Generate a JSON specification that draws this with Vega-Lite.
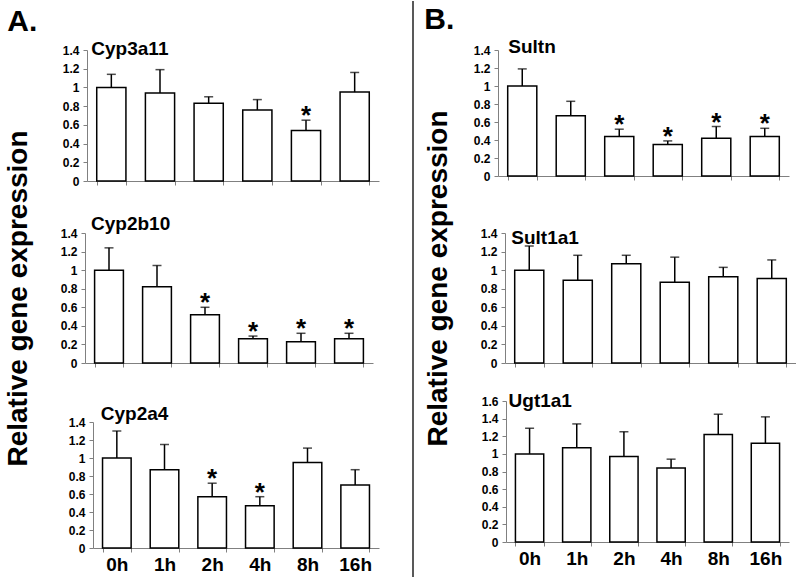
{
  "$schema": "https://vega.github.io/schema/vega-lite/v6.json",
  "background": "white",
  "padding": {"left": 4, "top": 0, "right": 0, "bottom": 0},
  "config": {
    "font": "Liberation Sans",
    "view": {"stroke": null},
    "axis": {"domainColor": "#808080", "tickColor": "#808080", "tickSize": 4, "labelColor": "black", "labelFontWeight": "bold", "grid": false, "titleColor": "black", "titleFontWeight": "bold"},
    "axisX": {"tickBand": "extent", "labelAngle": 0, "labelFontSize": 19, "labelPadding": 3},
    "axisY": {"labelFontSize": 12, "labelPadding": 4, "titleFontSize": 28},
    "title": {"fontWeight": "bold", "color": "black", "anchor": "start"}
  },
  "data": {"values": [
    {"gene": "Cyp3a11", "time": "0h", "value": 1.0, "upper": 1.14, "sig": false},
    {"gene": "Cyp3a11", "time": "1h", "value": 0.94, "upper": 1.19, "sig": false},
    {"gene": "Cyp3a11", "time": "2h", "value": 0.83, "upper": 0.90, "sig": false},
    {"gene": "Cyp3a11", "time": "4h", "value": 0.76, "upper": 0.87, "sig": false},
    {"gene": "Cyp3a11", "time": "8h", "value": 0.54, "upper": 0.65, "sig": true},
    {"gene": "Cyp3a11", "time": "16h", "value": 0.95, "upper": 1.16, "sig": false},
    {"gene": "Cyp2b10", "time": "0h", "value": 1.0, "upper": 1.24, "sig": false},
    {"gene": "Cyp2b10", "time": "1h", "value": 0.82, "upper": 1.05, "sig": false},
    {"gene": "Cyp2b10", "time": "2h", "value": 0.52, "upper": 0.60, "sig": true},
    {"gene": "Cyp2b10", "time": "4h", "value": 0.26, "upper": 0.29, "sig": true},
    {"gene": "Cyp2b10", "time": "8h", "value": 0.23, "upper": 0.32, "sig": true},
    {"gene": "Cyp2b10", "time": "16h", "value": 0.26, "upper": 0.32, "sig": true},
    {"gene": "Cyp2a4", "time": "0h", "value": 1.0, "upper": 1.30, "sig": false},
    {"gene": "Cyp2a4", "time": "1h", "value": 0.87, "upper": 1.15, "sig": false},
    {"gene": "Cyp2a4", "time": "2h", "value": 0.57, "upper": 0.72, "sig": true},
    {"gene": "Cyp2a4", "time": "4h", "value": 0.47, "upper": 0.57, "sig": true},
    {"gene": "Cyp2a4", "time": "8h", "value": 0.95, "upper": 1.11, "sig": false},
    {"gene": "Cyp2a4", "time": "16h", "value": 0.70, "upper": 0.87, "sig": false},
    {"gene": "Sultn", "time": "0h", "value": 1.0, "upper": 1.19, "sig": false},
    {"gene": "Sultn", "time": "1h", "value": 0.67, "upper": 0.83, "sig": false},
    {"gene": "Sultn", "time": "2h", "value": 0.44, "upper": 0.52, "sig": true},
    {"gene": "Sultn", "time": "4h", "value": 0.35, "upper": 0.39, "sig": true},
    {"gene": "Sultn", "time": "8h", "value": 0.42, "upper": 0.55, "sig": true},
    {"gene": "Sultn", "time": "16h", "value": 0.44, "upper": 0.53, "sig": true},
    {"gene": "Sult1a1", "time": "0h", "value": 1.0, "upper": 1.26, "sig": false},
    {"gene": "Sult1a1", "time": "1h", "value": 0.89, "upper": 1.16, "sig": false},
    {"gene": "Sult1a1", "time": "2h", "value": 1.07, "upper": 1.16, "sig": false},
    {"gene": "Sult1a1", "time": "4h", "value": 0.87, "upper": 1.14, "sig": false},
    {"gene": "Sult1a1", "time": "8h", "value": 0.93, "upper": 1.03, "sig": false},
    {"gene": "Sult1a1", "time": "16h", "value": 0.91, "upper": 1.11, "sig": false},
    {"gene": "Ugt1a1", "time": "0h", "value": 1.0, "upper": 1.29, "sig": false},
    {"gene": "Ugt1a1", "time": "1h", "value": 1.07, "upper": 1.34, "sig": false},
    {"gene": "Ugt1a1", "time": "2h", "value": 0.97, "upper": 1.25, "sig": false},
    {"gene": "Ugt1a1", "time": "4h", "value": 0.84, "upper": 0.94, "sig": false},
    {"gene": "Ugt1a1", "time": "8h", "value": 1.22, "upper": 1.45, "sig": false},
    {"gene": "Ugt1a1", "time": "16h", "value": 1.12, "upper": 1.42, "sig": false}
  ]},
  "spacing": 10,
  "hconcat": [
    {
      "title": {"text": "A.", "fontSize": 30, "offset": 3, "dx": 3, "frame": "bounds"},
      "spacing": 52,
      "bounds": "flush",
      "vconcat": [
        {
          "width": 294, "height": 131,
          "transform": [{"filter": "datum.gene === 'Cyp3a11'"}],
          "encoding": {"x": {"field": "time", "type": "nominal", "sort": ["0h","1h","2h","4h","8h","16h"], "scale": {"range": [2, 294], "paddingInner": 0.4, "paddingOuter": 0.2}, "axis": {"title": null, "labels": false}}},
          "layer": [
            {"mark": {"type": "bar", "fill": "white", "stroke": "black", "strokeWidth": 1.5},
             "encoding": {"y": {"field": "value", "type": "quantitative", "title": null, "scale": {"domain": [0, 1.4], "nice": false}, "axis": {"values": [0,0.2,0.4,0.6,0.8,1,1.2,1.4], "format": "~g", "offset": -2}}}},
            {"mark": {"type": "rule", "color": "black", "strokeWidth": 1.5},
             "encoding": {"y": {"field": "value", "type": "quantitative", "title": null, "scale": {"domain": [0, 1.4], "nice": false}, "axis": {"values": [0,0.2,0.4,0.6,0.8,1,1.2,1.4], "format": "~g", "offset": -2}}, "y2": {"field": "upper"}}},
            {"mark": {"type": "tick", "color": "black", "thickness": 1.5, "size": 9},
             "encoding": {"y": {"field": "upper", "type": "quantitative", "title": null, "scale": {"domain": [0, 1.4], "nice": false}, "axis": {"values": [0,0.2,0.4,0.6,0.8,1,1.2,1.4], "format": "~g", "offset": -2}}}},
            {"transform": [{"filter": "datum.sig"}],
             "mark": {"type": "text", "text": "*", "fontSize": 26, "fontWeight": "bold", "baseline": "alphabetic", "dy": 4},
             "encoding": {"y": {"field": "upper", "type": "quantitative", "title": null, "scale": {"domain": [0, 1.4], "nice": false}, "axis": {"values": [0,0.2,0.4,0.6,0.8,1,1.2,1.4], "format": "~g", "offset": -2}}}},
            {"transform": [{"filter": "datum.time === '0h'"}],
             "mark": {"type": "text", "align": "left", "baseline": "alphabetic", "fontSize": 19, "fontWeight": "bold", "dx": -20, "dy": 5},
             "encoding": {"text": {"field": "gene"}, "y": {"datum": 1.4, "type": "quantitative", "title": null, "scale": {"domain": [0, 1.4], "nice": false}, "axis": {"values": [0,0.2,0.4,0.6,0.8,1,1.2,1.4], "format": "~g", "offset": -2}}}}
          ]
        },
        {
          "width": 294, "height": 130,
          "transform": [{"filter": "datum.gene === 'Cyp2b10'"}],
          "encoding": {"x": {"field": "time", "type": "nominal", "sort": ["0h","1h","2h","4h","8h","16h"], "scale": {"range": [0, 288], "paddingInner": 0.4, "paddingOuter": 0.2}, "axis": {"title": null, "labels": false}}},
          "layer": [
            {"mark": {"type": "bar", "fill": "white", "stroke": "black", "strokeWidth": 1.5},
             "encoding": {"y": {"field": "value", "type": "quantitative", "title": "Relative gene expression", "scale": {"domain": [0, 1.4], "nice": false}, "axis": {"values": [0,0.2,0.4,0.6,0.8,1,1.2,1.4], "format": "~g", "titlePadding": 28}}}},
            {"mark": {"type": "rule", "color": "black", "strokeWidth": 1.5},
             "encoding": {"y": {"field": "value", "type": "quantitative", "title": "Relative gene expression", "scale": {"domain": [0, 1.4], "nice": false}, "axis": {"values": [0,0.2,0.4,0.6,0.8,1,1.2,1.4], "format": "~g", "titlePadding": 28}}, "y2": {"field": "upper"}}},
            {"mark": {"type": "tick", "color": "black", "thickness": 1.5, "size": 9},
             "encoding": {"y": {"field": "upper", "type": "quantitative", "title": "Relative gene expression", "scale": {"domain": [0, 1.4], "nice": false}, "axis": {"values": [0,0.2,0.4,0.6,0.8,1,1.2,1.4], "format": "~g", "titlePadding": 28}}}},
            {"transform": [{"filter": "datum.sig"}],
             "mark": {"type": "text", "text": "*", "fontSize": 26, "fontWeight": "bold", "baseline": "alphabetic", "dy": 4},
             "encoding": {"y": {"field": "upper", "type": "quantitative", "title": "Relative gene expression", "scale": {"domain": [0, 1.4], "nice": false}, "axis": {"values": [0,0.2,0.4,0.6,0.8,1,1.2,1.4], "format": "~g", "titlePadding": 28}}}},
            {"transform": [{"filter": "datum.time === '0h'"}],
             "mark": {"type": "text", "align": "left", "baseline": "alphabetic", "fontSize": 19, "fontWeight": "bold", "dx": -18, "dy": -3},
             "encoding": {"text": {"field": "gene"}, "y": {"datum": 1.4, "type": "quantitative", "title": "Relative gene expression", "scale": {"domain": [0, 1.4], "nice": false}, "axis": {"values": [0,0.2,0.4,0.6,0.8,1,1.2,1.4], "format": "~g", "titlePadding": 28}}}}
          ]
        },
        {
          "width": 294, "height": 133,
          "transform": [{"filter": "datum.gene === 'Cyp2a4'"}],
          "encoding": {"x": {"field": "time", "type": "nominal", "sort": ["0h","1h","2h","4h","8h","16h"], "scale": {"range": [8, 294], "paddingInner": 0.4, "paddingOuter": 0.2}, "axis": {"title": null}}},
          "layer": [
            {"mark": {"type": "bar", "fill": "white", "stroke": "black", "strokeWidth": 1.5},
             "encoding": {"y": {"field": "value", "type": "quantitative", "title": null, "scale": {"domain": [0, 1.4], "nice": false, "range": [133, 7]}, "axis": {"values": [0,0.2,0.4,0.6,0.8,1,1.2,1.4], "format": "~g", "offset": -8}}}},
            {"mark": {"type": "rule", "color": "black", "strokeWidth": 1.5},
             "encoding": {"y": {"field": "value", "type": "quantitative", "title": null, "scale": {"domain": [0, 1.4], "nice": false, "range": [133, 7]}, "axis": {"values": [0,0.2,0.4,0.6,0.8,1,1.2,1.4], "format": "~g", "offset": -8}}, "y2": {"field": "upper"}}},
            {"mark": {"type": "tick", "color": "black", "thickness": 1.5, "size": 9},
             "encoding": {"y": {"field": "upper", "type": "quantitative", "title": null, "scale": {"domain": [0, 1.4], "nice": false, "range": [133, 7]}, "axis": {"values": [0,0.2,0.4,0.6,0.8,1,1.2,1.4], "format": "~g", "offset": -8}}}},
            {"transform": [{"filter": "datum.sig"}],
             "mark": {"type": "text", "text": "*", "fontSize": 26, "fontWeight": "bold", "baseline": "alphabetic", "dy": 4},
             "encoding": {"y": {"field": "upper", "type": "quantitative", "title": null, "scale": {"domain": [0, 1.4], "nice": false, "range": [133, 7]}, "axis": {"values": [0,0.2,0.4,0.6,0.8,1,1.2,1.4], "format": "~g", "offset": -8}}}},
            {"transform": [{"filter": "datum.time === '0h'"}],
             "mark": {"type": "text", "align": "left", "baseline": "alphabetic", "fontSize": 19, "fontWeight": "bold", "dx": -16, "dy": -2},
             "encoding": {"text": {"field": "gene"}, "y": {"datum": 1.4, "type": "quantitative", "title": null, "scale": {"domain": [0, 1.4], "nice": false, "range": [133, 7]}, "axis": {"values": [0,0.2,0.4,0.6,0.8,1,1.2,1.4], "format": "~g", "offset": -8}}}}
          ]
        }
      ]
    },
    {
      "data": {"values": [{}]},
      "width": 24, "height": 528,
      "mark": {"type": "rule", "color": "#222222", "strokeWidth": 1.5},
      "encoding": {
        "x": {"datum": 1, "type": "quantitative", "scale": {"domain": [0, 1]}, "axis": null},
        "y": {"datum": 0, "type": "quantitative", "scale": {"domain": [0, 1], "range": [528, -49]}, "axis": null},
        "y2": {"datum": 1}
      }
    },
    {
      "title": {"text": "B.", "fontSize": 30, "offset": 3, "frame": "bounds"},
      "spacing": 38,
      "bounds": "flush",
      "vconcat": [
        {
          "width": 298, "height": 126,
          "transform": [{"filter": "datum.gene === 'Sultn'"}],
          "encoding": {"x": {"field": "time", "type": "nominal", "sort": ["0h","1h","2h","4h","8h","16h"], "scale": {"range": [0, 291], "paddingInner": 0.4, "paddingOuter": 0.2}, "axis": {"title": null, "labels": false}}},
          "layer": [
            {"mark": {"type": "bar", "fill": "white", "stroke": "black", "strokeWidth": 1.5},
             "encoding": {"y": {"field": "value", "type": "quantitative", "title": null, "scale": {"domain": [0, 1.4], "nice": false}, "axis": {"values": [0,0.2,0.4,0.6,0.8,1,1.2,1.4], "format": "~g"}}}},
            {"mark": {"type": "rule", "color": "black", "strokeWidth": 1.5},
             "encoding": {"y": {"field": "value", "type": "quantitative", "title": null, "scale": {"domain": [0, 1.4], "nice": false}, "axis": {"values": [0,0.2,0.4,0.6,0.8,1,1.2,1.4], "format": "~g"}}, "y2": {"field": "upper"}}},
            {"mark": {"type": "tick", "color": "black", "thickness": 1.5, "size": 9},
             "encoding": {"y": {"field": "upper", "type": "quantitative", "title": null, "scale": {"domain": [0, 1.4], "nice": false}, "axis": {"values": [0,0.2,0.4,0.6,0.8,1,1.2,1.4], "format": "~g"}}}},
            {"transform": [{"filter": "datum.sig"}],
             "mark": {"type": "text", "text": "*", "fontSize": 26, "fontWeight": "bold", "baseline": "alphabetic", "dy": 4},
             "encoding": {"y": {"field": "upper", "type": "quantitative", "title": null, "scale": {"domain": [0, 1.4], "nice": false}, "axis": {"values": [0,0.2,0.4,0.6,0.8,1,1.2,1.4], "format": "~g"}}}},
            {"transform": [{"filter": "datum.time === '0h'"}],
             "mark": {"type": "text", "align": "left", "baseline": "alphabetic", "fontSize": 19, "fontWeight": "bold", "dx": -14, "dy": 3},
             "encoding": {"text": {"field": "gene"}, "y": {"datum": 1.4, "type": "quantitative", "title": null, "scale": {"domain": [0, 1.4], "nice": false}, "axis": {"values": [0,0.2,0.4,0.6,0.8,1,1.2,1.4], "format": "~g"}}}}
          ]
        },
        {
          "width": 298, "height": 149,
          "transform": [{"filter": "datum.gene === 'Sult1a1'"}],
          "encoding": {"x": {"field": "time", "type": "nominal", "sort": ["0h","1h","2h","4h","8h","16h"], "scale": {"range": [7, 298], "paddingInner": 0.4, "paddingOuter": 0.2}, "axis": {"title": null, "labels": false}}},
          "layer": [
            {"mark": {"type": "bar", "fill": "white", "stroke": "black", "strokeWidth": 1.5},
             "encoding": {"y": {"field": "value", "type": "quantitative", "title": "Relative gene expression", "scale": {"domain": [0, 1.4], "nice": false, "range": [149, 19]}, "axis": {"values": [0,0.2,0.4,0.6,0.8,1,1.2,1.4], "format": "~g", "offset": -7, "titlePadding": 28, "titleY": 64}}}},
            {"mark": {"type": "rule", "color": "black", "strokeWidth": 1.5},
             "encoding": {"y": {"field": "value", "type": "quantitative", "title": "Relative gene expression", "scale": {"domain": [0, 1.4], "nice": false, "range": [149, 19]}, "axis": {"values": [0,0.2,0.4,0.6,0.8,1,1.2,1.4], "format": "~g", "offset": -7, "titlePadding": 28, "titleY": 64}}, "y2": {"field": "upper"}}},
            {"mark": {"type": "tick", "color": "black", "thickness": 1.5, "size": 9},
             "encoding": {"y": {"field": "upper", "type": "quantitative", "title": "Relative gene expression", "scale": {"domain": [0, 1.4], "nice": false, "range": [149, 19]}, "axis": {"values": [0,0.2,0.4,0.6,0.8,1,1.2,1.4], "format": "~g", "offset": -7, "titlePadding": 28, "titleY": 64}}}},
            {"transform": [{"filter": "datum.sig"}],
             "mark": {"type": "text", "text": "*", "fontSize": 26, "fontWeight": "bold", "baseline": "alphabetic", "dy": 4},
             "encoding": {"y": {"field": "upper", "type": "quantitative", "title": "Relative gene expression", "scale": {"domain": [0, 1.4], "nice": false, "range": [149, 19]}, "axis": {"values": [0,0.2,0.4,0.6,0.8,1,1.2,1.4], "format": "~g", "offset": -7, "titlePadding": 28, "titleY": 64}}}},
            {"transform": [{"filter": "datum.time === '0h'"}],
             "mark": {"type": "text", "align": "left", "baseline": "alphabetic", "fontSize": 19, "fontWeight": "bold", "dx": -18, "dy": 11},
             "encoding": {"text": {"field": "gene"}, "y": {"datum": 1.4, "type": "quantitative", "title": "Relative gene expression", "scale": {"domain": [0, 1.4], "nice": false, "range": [149, 19]}, "axis": {"values": [0,0.2,0.4,0.6,0.8,1,1.2,1.4], "format": "~g", "offset": -7, "titlePadding": 28, "titleY": 64}}}}
          ]
        },
        {
          "width": 298, "height": 141,
          "transform": [{"filter": "datum.gene === 'Ugt1a1'"}],
          "encoding": {"x": {"field": "time", "type": "nominal", "sort": ["0h","1h","2h","4h","8h","16h"], "scale": {"range": [8, 291], "paddingInner": 0.4, "paddingOuter": 0.2}, "axis": {"title": null}}},
          "layer": [
            {"mark": {"type": "bar", "fill": "white", "stroke": "black", "strokeWidth": 1.5},
             "encoding": {"y": {"field": "value", "type": "quantitative", "title": null, "scale": {"domain": [0, 1.6], "nice": false}, "axis": {"values": [0,0.2,0.4,0.6,0.8,1,1.2,1.4,1.6], "format": "~g", "offset": -8}}}},
            {"mark": {"type": "rule", "color": "black", "strokeWidth": 1.5},
             "encoding": {"y": {"field": "value", "type": "quantitative", "title": null, "scale": {"domain": [0, 1.6], "nice": false}, "axis": {"values": [0,0.2,0.4,0.6,0.8,1,1.2,1.4,1.6], "format": "~g", "offset": -8}}, "y2": {"field": "upper"}}},
            {"mark": {"type": "tick", "color": "black", "thickness": 1.5, "size": 9},
             "encoding": {"y": {"field": "upper", "type": "quantitative", "title": null, "scale": {"domain": [0, 1.6], "nice": false}, "axis": {"values": [0,0.2,0.4,0.6,0.8,1,1.2,1.4,1.6], "format": "~g", "offset": -8}}}},
            {"transform": [{"filter": "datum.sig"}],
             "mark": {"type": "text", "text": "*", "fontSize": 26, "fontWeight": "bold", "baseline": "alphabetic", "dy": 4},
             "encoding": {"y": {"field": "upper", "type": "quantitative", "title": null, "scale": {"domain": [0, 1.6], "nice": false}, "axis": {"values": [0,0.2,0.4,0.6,0.8,1,1.2,1.4,1.6], "format": "~g", "offset": -8}}}},
            {"transform": [{"filter": "datum.time === '0h'"}],
             "mark": {"type": "text", "align": "left", "baseline": "alphabetic", "fontSize": 19, "fontWeight": "bold", "dx": -21, "dy": 6},
             "encoding": {"text": {"field": "gene"}, "y": {"datum": 1.6, "type": "quantitative", "title": null, "scale": {"domain": [0, 1.6], "nice": false}, "axis": {"values": [0,0.2,0.4,0.6,0.8,1,1.2,1.4,1.6], "format": "~g", "offset": -8}}}}
          ]
        }
      ]
    }
  ]
}
